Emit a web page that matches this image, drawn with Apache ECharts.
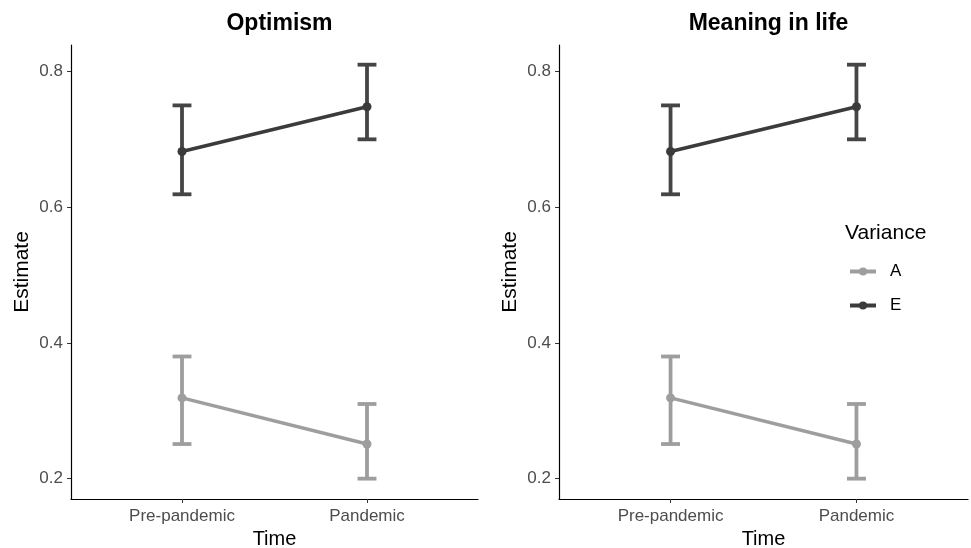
<!DOCTYPE html>
<html>
<head>
<meta charset="utf-8">
<script src="https://cdn.jsdelivr.net/npm/echarts@6/dist/echarts.min.js"></script>
<style>html,body{margin:0;padding:0;background:#fff;}#c{width:971px;height:548px;}</style>
</head>
<body>
<div id="c"></div>
<script>
// ---- data ----
const panels = ['Optimism', 'Meaning in life'];
const timeLabels = ['Pre-pandemic', 'Pandemic'];
const groups = ['A', 'E'];
// estimates [Pre-pandemic, Pandemic]
const estA = [0.319, 0.251];
const lowA = [0.251, 0.200];
const highA = [0.380, 0.310];
const estE = [0.682, 0.748];
const lowE = [0.619, 0.700];
const highE = [0.750, 0.810];
const yTicks = [0.2, 0.4, 0.6, 0.8];

const colA = '#9e9e9e', colE = '#3b3b3b';
const font = 'Liberation Sans, Arial, sans-serif';

const chart = echarts.init(document.getElementById('c'), null, {renderer: 'canvas'});

const grids = [
  {left: 71, right: 493, top: 45, bottom: 49, outerBoundsMode: 'none', containLabel: false},
  {left: 559, right: 3, top: 45, bottom: 49, outerBoundsMode: 'none', containLabel: false}
];

function errRender(params, api) {
  const x = api.value(0), lo = api.value(1), hi = api.value(2);
  const pLo = api.coord([x, lo]);
  const pHi = api.coord([x, hi]);
  const pL = api.coord([x - 0.051, lo]);
  const pR = api.coord([x + 0.051, lo]);
  const hw = (pR[0] - pL[0]) / 2;
  const color = api.visual('color');
  const style = {stroke: color, lineWidth: 3.8, fill: null};
  return {
    type: 'group',
    children: [
      {type: 'line', shape: {x1: pLo[0], y1: pLo[1], x2: pHi[0], y2: pHi[1]}, style},
      {type: 'line', shape: {x1: pLo[0] - hw, y1: pLo[1], x2: pLo[0] + hw, y2: pLo[1]}, style},
      {type: 'line', shape: {x1: pHi[0] - hw, y1: pHi[1], x2: pHi[0] + hw, y2: pHi[1]}, style}
    ]
  };
}

const xAxes = [], yAxes = [], series = [], titles = [];
panels.forEach((name, i) => {
  xAxes.push({
    type: 'value', gridIndex: i, min: 0.4, max: 2.6,
    name: 'Time', nameLocation: 'middle', nameGap: 30,
    nameTextStyle: {fontFamily: font, fontSize: 20, color: '#000'},
    axisLine: {show: true, lineStyle: {color: '#000', width: 1.2}},
    axisTick: {show: true, customValues: [1, 2], length: 4, lineStyle: {color: '#333'}},
    axisLabel: {customValues: [1, 2], formatter: v => timeLabels[Math.round(v) - 1], fontFamily: font, fontSize: 17, color: '#4d4d4d', margin: 9},
    splitLine: {show: false}
  });
  yAxes.push({
    type: 'value', gridIndex: i, min: 0.170, max: 0.839,
    name: 'Estimate', nameLocation: 'middle', nameGap: 38, nameRotate: 90,
    nameTextStyle: {fontFamily: font, fontSize: 21, color: '#000'},
    axisLine: {show: true, lineStyle: {color: '#000', width: 1.2}},
    axisTick: {show: true, customValues: yTicks, length: 4, lineStyle: {color: '#333'}},
    axisLabel: {customValues: yTicks, formatter: v => v.toFixed(1), fontFamily: font, fontSize: 17, color: '#4d4d4d', margin: 8},
    splitLine: {show: false}
  });
  titles.push({
    text: name, left: (grids[i].left + (971 - grids[i].right)) / 2, top: 7, textAlign: 'center',
    textStyle: {fontFamily: font, fontSize: 23, fontWeight: 'bold', color: '#000'}
  });
  const groupsData = [
    {g: 'A', est: estA, lo: lowA, hi: highA, col: colA},
    {g: 'E', est: estE, lo: lowE, hi: highE, col: colE}
  ];
  groupsData.forEach(d => {
    series.push({
      type: 'custom', xAxisIndex: i, yAxisIndex: i, renderItem: errRender,
      itemStyle: {color: d.col === colE ? '#454545' : d.col}, z: 2, silent: true,
      data: d.est.map((_, k) => [k + 1, d.lo[k], d.hi[k]])
    });
    series.push({
      type: 'line', name: d.g, xAxisIndex: i, yAxisIndex: i, z: 3,
      data: d.est.map((v, k) => [k + 1, v]),
      symbol: 'circle', symbolSize: 9, showSymbol: true,
      lineStyle: {color: d.col, width: 3.5},
      itemStyle: {color: d.col},
      animation: false
    });
  });
});

titles.push({
  text: 'Variance', left: 845, top: 223, padding: 0,
  textStyle: {fontFamily: font, fontSize: 21, fontWeight: 'normal', color: '#000'}
});

chart.setOption({
  animation: false,
  backgroundColor: '#fff',
  title: titles,
  grid: grids,
  xAxis: xAxes,
  yAxis: yAxes,
  legend: {
    data: groups, orient: 'vertical', left: 843, top: 258, itemGap: 17, padding: 5,
    itemWidth: 26, itemHeight: 10,
    lineStyle: {width: 4},
    textStyle: {fontFamily: font, fontSize: 17, color: '#000', lineHeight: 16, padding: [0, 0, 0, 9]}
  },
  series: series
});
</script>
</body>
</html>
